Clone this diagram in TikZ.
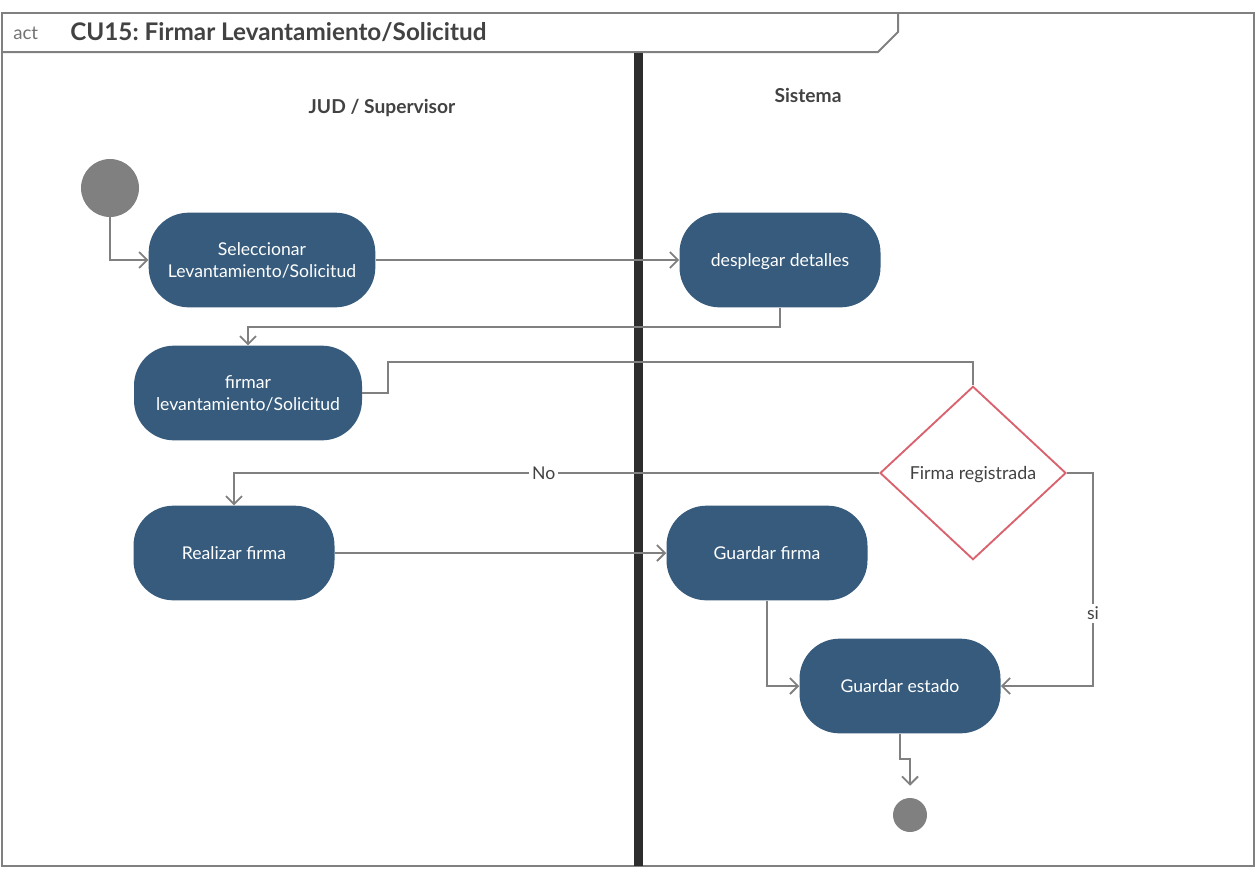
\documentclass[tikz,border=0pt]{standalone}
\usepackage{fontspec}
\setmainfont{Lato}
\usetikzlibrary{arrows.meta,shapes.geometric}
\definecolor{azulacc}{HTML}{365B7D}
\definecolor{gris}{HTML}{808080}
\definecolor{texto}{HTML}{424242}
\definecolor{rojodec}{HTML}{D9626E}
\definecolor{barra}{HTML}{2D2D2D}
\frenchspacing
\tikzset{
	actividad/.style={fill=azulacc, text=white, rounded corners=30pt, minimum width=150.75pt, minimum height=71pt, text depth=0pt, align=center, font=\fontsize{13.2}{17.2}\selectfont},
	decision/.style={diamond, draw=rojodec, line width=1.4pt, text=texto, minimum width=139.5pt, minimum height=130pt, inner sep=0pt, text depth=0pt, font=\fontsize{13.4}{15}\selectfont},
	inicio/.style={circle, fill=gris, minimum size=43.5pt, inner sep=0pt},
	fin/.style={circle, fill=gris, minimum size=25.5pt, inner sep=0pt},
	flujo/.style={draw=gris, line width=1.4pt, -{Straight Barb[length=6pt,width=12pt]}},
	etiqueta/.style={fill=white, text=texto, inner sep=2pt, font=\fontsize{13.2}{15}\selectfont},
	marco/.style={draw=gris, line width=1.5pt},
	carriltit/.style={text=texto, font=\bfseries\fontsize{14.4}{16}\selectfont}
}
\begin{document}
\begin{tikzpicture}[x=0.75pt,y=-0.75pt]
	\useasboundingbox (0,0) rectangle (1256,868);
	% marco
	\draw[marco] (2,13) rectangle (1254,866);
	\draw[marco] (2,52) -- (878,52) -- (898,32) -- (898,13);
	\node[anchor=west, inner sep=0pt, text=gris!90!black, font=\fontsize{14}{16}\selectfont] (act) at (13,33) {act};
	\node[anchor=west, inner sep=0pt, text=texto, font=\bfseries\fontsize{18.2}{20}\selectfont] (titulo) at (70,32) {CU15: Firmar Levantamiento/Solicitud};
	% carriles
	\fill[barra] (634,53) rectangle (643,866);
	\node[carriltit] (jud) at (382,108) {JUD / Supervisor};
	\node[carriltit] (sis) at (808,95) {Sistema};
	% nodos
	\node[inicio] (ini) at (110,188) {};
	\node[actividad, minimum width=170pt] (sel) at (262,260) {Seleccionar\\Levantamiento/Solicitud};
	\node[actividad] (desp) at (780,260) {desplegar detalles};
	\node[actividad, minimum width=171pt] (firm) at (248,393) {firmar\\levantamiento/Solicitud};
	\node[decision] (dec) at (973,473) {Firma registrada};
	\node[actividad] (real) at (234,553) {Realizar firma};
	\node[actividad] (gfir) at (767,553) {Guardar firma};
	\node[actividad] (gest) at (900,686) {Guardar estado};
	\node[fin] (final) at (910,815) {};
	\coordinate (k1) at (388,362);
	\coordinate (k2) at (1093,686);
	% flujos
	\draw[flujo] (ini.south) |- (sel.west);
	\draw[flujo] (sel.east) -- (desp.west);
	\draw[flujo] (desp.south) -- ++(0,19) -| (firm.north);
	\draw[draw=gris, line width=1.4pt] (firm.east) -| (k1) -| (dec.north);
	\draw[flujo] (dec.west) -| node[etiqueta, pos=0.26] (no) {No} (real.north);
	\draw[flujo] (dec.east) -| node[etiqueta, pos=0.83] (si) {si} (k2) -- (gest.east);
	\draw[flujo] (real.east) -- (gfir.west);
	\draw[flujo] (gfir.south) |- (gest.west);
	\draw[flujo] (gest.south) -- ++(0,25) -| ([yshift=9pt]final.north);
\end{tikzpicture}
\end{document}
